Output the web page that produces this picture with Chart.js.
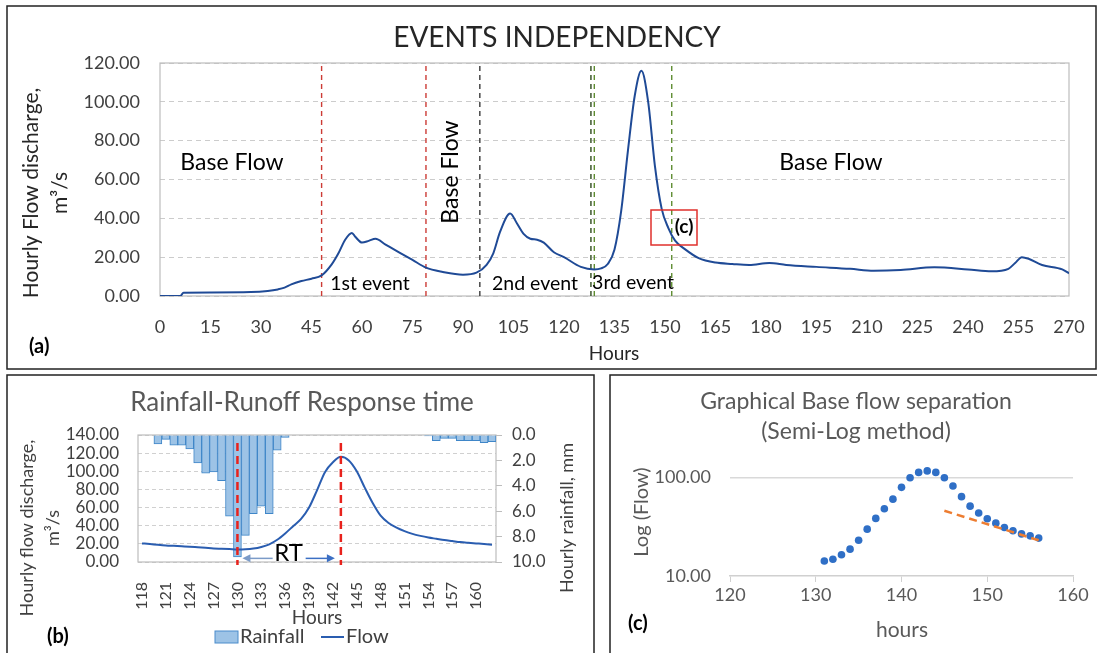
<!DOCTYPE html>
<html>
<head>
<meta charset="utf-8">
<script src="https://cdn.jsdelivr.net/npm/chart.js@4.4.1/dist/chart.umd.min.js"></script>
<style>
  body { margin: 0; background: #fff; }
  #wrap { position: relative; width: 1097px; height: 653px; overflow: hidden; }
  canvas { position: absolute; left: 0; top: 0; }
</style>
</head>
<body>
<div id="wrap">
  <canvas id="chartA" width="1097" height="653"></canvas>
  <canvas id="chartB" width="1097" height="653"></canvas>
  <canvas id="chartC" width="1097" height="653"></canvas>
</div>
<script>
// (a) hourly flow over the whole record
const eventHours = [0, 6, 7, 15, 27, 32, 35, 37, 39, 42, 45, 48, 51, 53, 55, 57, 58, 60, 62, 64, 67, 71, 75, 79, 84, 90, 94,
  97, 99, 101, 104, 106, 108, 110, 112, 114, 117, 120, 125, 129, 131, 133, 135, 137, 139, 141, 143, 145, 147, 149, 151,
  153, 156, 160, 165, 170, 175, 181, 186, 195, 205, 212, 220, 230, 240, 247, 252, 254, 256, 258, 262, 268, 270];
const eventFlow = [0, 0, 1.7, 1.8, 2, 2.6, 3.4, 4.3, 6, 7.7, 8.9, 10.6, 16.3, 22, 29, 32.5, 30.5, 27.5, 28.4, 29.5, 26.5, 22.5, 18.6, 14.6, 12.4, 11, 12,
  16, 22, 33, 42.5, 37.5, 32, 29.5, 29, 27.5, 22.5, 20, 15, 13.7, 14.2, 16.5, 24, 44, 75, 103, 116, 100, 67, 45, 35,
  28.5, 24, 19.5, 17.2, 16.5, 16, 17, 16, 15, 14, 13, 13.4, 14.8, 13.7, 12.7, 14, 17, 20, 19.2, 16, 13.7, 11.7];
const eventLineHours = [48, 79, 95, 128, 129, 152];
const eventLineColors = ['#cc3b35', '#cc3b35', '#3a3a3a', '#2f4a1f', '#5e8c31', '#5e8c31'];

// (b) rainfall-runoff, hours 118..162
const rainHours = [118, 119, 120, 121, 122, 123, 124, 125, 126, 127, 128, 129, 130, 131, 132, 133, 134, 135, 136, 137, 138,
  139, 140, 141, 142, 143, 144, 145, 146, 147, 148, 149, 150, 151, 152, 153, 154, 155, 156, 157, 158, 159, 160, 161, 162];
const rainfall = [0, 0, 0.7, 0.35, 0.8, 0.8, 1.1, 2.2, 3.0, 2.9, 3.6, 6.4, 9.6, 7.9, 6.2, 5.6, 6.2, 1.2, 0.2,
  0, 0, 0, 0, 0, 0, 0, 0, 0, 0, 0, 0, 0, 0, 0, 0, 0,
  0.08, 0.45, 0.26, 0.26, 0.45, 0.45, 0.45, 0.6, 0.52, 0.6];
const rainFlow = [20.5, 19.8, 19.0, 18.3, 17.8, 17.3, 16.8, 16.2, 15.6, 15.0, 14.6, 14.2, 13.8,
  14.0, 14.8, 16.6, 19.5, 24.5, 31.5, 39.5, 47.5, 60, 79, 99, 110, 116,
  112, 100, 82, 65, 51, 43, 37.8, 34, 31, 28.8, 27, 25.6, 24.2, 23.1, 22, 21.2, 20.5, 19.8, 19];
const responseHours = [130, 143];

// (c) semi-log recession
const logHours = [131, 132, 133, 134, 135, 136, 137, 138, 139, 140, 141, 142, 143, 144, 145, 146, 147, 148, 149, 150, 151, 152, 153, 154, 155, 156];
const logFlow = [14.2, 14.8, 16.4, 18.7, 23, 29.8, 38.3, 48, 60, 79, 99, 112, 116, 112, 99, 81.6, 63.6, 51, 43.4, 38, 34.3, 31, 28.7, 26.7, 25.5, 24.2];
const trendHours = [145, 156];
const trendFlow = [45.8, 23];

const FONT = 'Lato, "Noto Sans", sans-serif';
Chart.defaults.font.family = FONT;
Chart.defaults.animation = false;

function text(ctx, s, x, y, size, color, opt) {
  opt = opt || {};
  ctx.save();
  ctx.font = (opt.bold ? 'bold ' : '') + size + 'px ' + FONT;
  ctx.fillStyle = color;
  ctx.textAlign = opt.align || 'center';
  ctx.textBaseline = 'middle';
  ctx.translate(x, y);
  if (opt.rot) ctx.rotate(opt.rot);
  ctx.fillText(s, 0, 0);
  ctx.restore();
}

function frame(ctx, x1, y1, x2, y2) {
  ctx.save();
  ctx.strokeStyle = '#222';
  ctx.lineWidth = 1.5;
  ctx.strokeRect(x1, y1, x2 - x1, y2 - y1);
  ctx.restore();
}

function plotBox(chart, color) {
  const a = chart.chartArea, ctx = chart.ctx;
  ctx.save();
  ctx.strokeStyle = color;
  ctx.lineWidth = 1.2;
  ctx.strokeRect(a.left, a.top, a.right - a.left, a.bottom - a.top);
  ctx.restore();
}

// ---------- (a) EVENTS INDEPENDENCY ----------
const decorA = {
  id: 'decorA',
  beforeDatasetsDraw(chart) { plotBox(chart, '#bdbdbd'); },
  afterDraw(chart) {
    const ctx = chart.ctx;
    frame(ctx, 7, 6, 1096, 369);
    text(ctx, 'EVENTS INDEPENDENCY', 557, 38, 28, '#262626');
    text(ctx, 'Hourly Flow discharge,', 31, 193, 21, '#262626', { rot: -Math.PI / 2 });
    text(ctx, 'm³/s', 60, 193, 21, '#262626', { rot: -Math.PI / 2 });
    text(ctx, 'Hours', 614, 354, 19, '#262626');
    text(ctx, '(a)', 29, 347, 20, '#000', { bold: true, align: 'left' });
    text(ctx, 'Base Flow', 232, 163, 23, '#000');
    text(ctx, 'Base Flow', 451, 172, 23, '#000', { rot: -Math.PI / 2 });
    text(ctx, 'Base Flow', 831, 163, 23, '#000');
    text(ctx, '1st event', 370, 284, 19.5, '#000');
    text(ctx, '2nd event', 535, 284, 19.5, '#000');
    text(ctx, '3rd event', 633, 283, 19.5, '#000');
    ctx.save();
    ctx.strokeStyle = '#e0302c';
    ctx.lineWidth = 1.5;
    ctx.strokeRect(651, 210, 46, 35);
    ctx.restore();
    text(ctx, '(c)', 684, 227, 19, '#000', { bold: true });
  }
};

new Chart(document.getElementById('chartA'), {
  type: 'line',
  data: {
    datasets: [
      {
        data: eventHours.map((h, i) => ({ x: h, y: eventFlow[i] })),
        borderColor: '#1f4a96', borderWidth: 2, pointRadius: 0,
        cubicInterpolationMode: 'monotone', order: 0
      },
      ...eventLineHours.map((h, i) => ({
        data: [{ x: h, y: 0 }, { x: h, y: 120 }],
        borderColor: eventLineColors[i], borderWidth: 1.4, borderDash: [5, 4],
        pointRadius: 0, order: 1
      }))
    ]
  },
  options: {
    responsive: false, devicePixelRatio: 1,
    layout: { padding: { left: 0, top: 63, right: 28, bottom: 297 } },
    plugins: { legend: { display: false }, tooltip: { enabled: false } },
    scales: {
      x: {
        type: 'linear', min: 0, max: 270,
        ticks: { stepSize: 15, color: '#404040', font: { size: 18 }, padding: 12, maxRotation: 0 },
        grid: { display: false }, border: { display: false },
        afterFit(s) { s.height = 60; }
      },
      y: {
        min: 0, max: 120,
        ticks: { stepSize: 20, color: '#404040', font: { size: 18 }, padding: 20, callback: v => v.toFixed(2) },
        grid: { color: '#cccccc', drawTicks: false }, border: { display: false, dash: [5, 4] },
        afterFit(s) { s.width = 160; }
      }
    }
  },
  plugins: [decorA]
});

// ---------- (b) Rainfall-Runoff Response time ----------
const decorB = {
  id: 'decorB',
  beforeDatasetsDraw(chart) { plotBox(chart, '#bdbdbd'); },
  afterDraw(chart) {
    const ctx = chart.ctx, xs = chart.scales.x, ys = chart.scales.y;
    frame(ctx, 7, 375, 594, 655);
    text(ctx, 'Rainfall-Runoff Response time', 302, 403, 26, '#595959');
    text(ctx, 'Hourly flow discharge,', 27, 528, 18, '#404040', { rot: -Math.PI / 2 });
    text(ctx, 'm³/s', 53, 528, 18, '#404040', { rot: -Math.PI / 2 });
    text(ctx, 'Hourly rainfall, mm', 567, 518, 18, '#404040', { rot: -Math.PI / 2 });
    text(ctx, 'Hours', 317, 618, 19, '#404040');
    text(ctx, '(b)', 47, 637, 20, '#000', { bold: true, align: 'left' });
    // legend
    ctx.save();
    ctx.fillStyle = '#9dc3e6'; ctx.strokeStyle = '#4a8ccb'; ctx.lineWidth = 1;
    ctx.fillRect(215, 631, 23, 12); ctx.strokeRect(215, 631, 23, 12);
    ctx.strokeStyle = '#2a5db0'; ctx.lineWidth = 2;
    ctx.beginPath(); ctx.moveTo(321, 637); ctx.lineTo(344, 637); ctx.stroke();
    ctx.restore();
    text(ctx, 'Rainfall', 240, 637, 20, '#404040', { align: 'left' });
    text(ctx, 'Flow', 346, 637, 20, '#404040', { align: 'left' });
    // response time markers
    const px = responseHours.map(h => xs.getPixelForValue(rainHours.indexOf(h)));
    ctx.save();
    ctx.strokeStyle = '#e8221c'; ctx.lineWidth = 2.5; ctx.setLineDash([8, 5]);
    px.forEach(x => { ctx.beginPath(); ctx.moveTo(x, 443); ctx.lineTo(x, 565); ctx.stroke(); });
    ctx.restore();
    const ay = ys.getPixelForValue(4);
    const l = px[0] + 5, r = px[1] - 6, mid = (l + r) / 2;
    ctx.save();
    ctx.lineWidth = 1.5;
    ctx.strokeStyle = ctx.fillStyle = '#7b9bc8';
    ctx.beginPath(); ctx.moveTo(l + 6, ay); ctx.lineTo(mid - 16, ay); ctx.stroke();
    ctx.beginPath(); ctx.moveTo(l, ay); ctx.lineTo(l + 8, ay - 4); ctx.lineTo(l + 8, ay + 4); ctx.closePath(); ctx.fill();
    ctx.strokeStyle = ctx.fillStyle = '#3b6fc4';
    ctx.beginPath(); ctx.moveTo(mid + 17, ay); ctx.lineTo(r - 6, ay); ctx.stroke();
    ctx.beginPath(); ctx.moveTo(r, ay); ctx.lineTo(r - 8, ay - 4); ctx.lineTo(r - 8, ay + 4); ctx.closePath(); ctx.fill();
    ctx.restore();
    text(ctx, 'RT', mid, ay - 5, 24, '#000');
  }
};

new Chart(document.getElementById('chartB'), {
  type: 'bar',
  data: {
    labels: rainHours,
    datasets: [
      {
        type: 'line', data: rainFlow, yAxisID: 'y',
        borderColor: '#2a5db0', borderWidth: 2, pointRadius: 0,
        cubicInterpolationMode: 'monotone', order: 0
      },
      {
        type: 'bar', data: rainfall, yAxisID: 'y2',
        backgroundColor: '#9dc3e6', borderColor: '#3f86c8', borderWidth: 1,
        barPercentage: 1, categoryPercentage: 1, order: 1
      }
    ]
  },
  options: {
    responsive: false, devicePixelRatio: 1,
    layout: { padding: { left: 0, top: 435, right: 541, bottom: 21 } },
    plugins: { legend: { display: false }, tooltip: { enabled: false } },
    scales: {
      x: {
        ticks: {
          autoSkip: false, maxRotation: 90, minRotation: 90, padding: 12,
          color: '#404040', font: { size: 16 },
          callback: (v, i) => (i % 3 === 0 ? String(rainHours[i]) : '')
        },
        grid: { display: false }, border: { display: false },
        afterFit(s) { s.height = 70; }
      },
      y: {
        min: 0, max: 140,
        ticks: { autoSkip: false, stepSize: 20, color: '#404040', font: { size: 17 }, padding: 19, callback: v => v.toFixed(2) },
        grid: { color: '#d0d0d0', drawTicks: false }, border: { display: false, dash: [4, 3] },
        afterFit(s) { s.width = 138; }
      },
      y2: {
        position: 'right', reverse: true, min: 0, max: 10,
        ticks: { autoSkip: false, stepSize: 2, color: '#404040', font: { size: 17 }, padding: 10, callback: v => v.toFixed(1) },
        grid: { drawOnChartArea: false, drawTicks: true, tickLength: 6, color: '#bdbdbd' },
        border: { display: false },
        afterFit(s) { s.width = 60; }
      }
    }
  },
  plugins: [decorB]
});

// ---------- (c) Graphical Base flow separation ----------
const decorC = {
  id: 'decorC',
  afterDraw(chart) {
    const ctx = chart.ctx;
    frame(ctx, 610, 375, 1098, 655);
    text(ctx, 'Graphical Base flow separation', 856, 402, 23, '#595959');
    text(ctx, '(Semi-Log method)', 856, 432, 23, '#595959');
    text(ctx, 'Log (Flow)', 642, 512, 20, '#595959', { rot: -Math.PI / 2 });
    text(ctx, 'hours', 902, 630, 21, '#595959');
    text(ctx, '(c)', 628, 624, 20, '#000', { bold: true, align: 'left' });
  }
};

new Chart(document.getElementById('chartC'), {
  type: 'scatter',
  data: {
    datasets: [
      {
        type: 'line', data: trendHours.map((h, i) => ({ x: h, y: trendFlow[i] })),
        borderColor: '#ed7d31', borderWidth: 2.5, borderDash: [8, 5], pointRadius: 0, order: 0
      },
      {
        data: logHours.map((h, i) => ({ x: h, y: logFlow[i] })),
        backgroundColor: '#2f6fc6', borderWidth: 0, pointRadius: 3.8, order: 1
      }
    ]
  },
  options: {
    responsive: false, devicePixelRatio: 1,
    layout: { padding: { left: 0, top: 466, right: 24, bottom: 47 } },
    plugins: { legend: { display: false }, tooltip: { enabled: false } },
    scales: {
      x: {
        type: 'linear', min: 120, max: 160,
        ticks: { stepSize: 10, color: '#595959', font: { size: 18 }, padding: 2, maxRotation: 0 },
        grid: { drawOnChartArea: false, drawTicks: true, tickLength: 6, color: '#d0d0d0' },
        border: { color: '#d0d0d0', width: 1.5 },
        afterFit(s) { s.height = 30; }
      },
      y: {
        type: 'logarithmic', min: 10, max: 130,
        afterBuildTicks(s) { s.ticks = [{ value: 10 }, { value: 100 }]; },
        ticks: { color: '#595959', font: { size: 18 }, padding: 19, callback: v => Number(v).toFixed(2) },
        grid: { color: c => (c.tick && c.tick.value === 100 ? '#d9d9d9' : 'rgba(0,0,0,0)'), drawTicks: false, lineWidth: 1.5 },
        border: { display: false },
        afterFit(s) { s.width = 730; }
      }
    }
  },
  plugins: [decorC]
});
</script>
</body>
</html>
